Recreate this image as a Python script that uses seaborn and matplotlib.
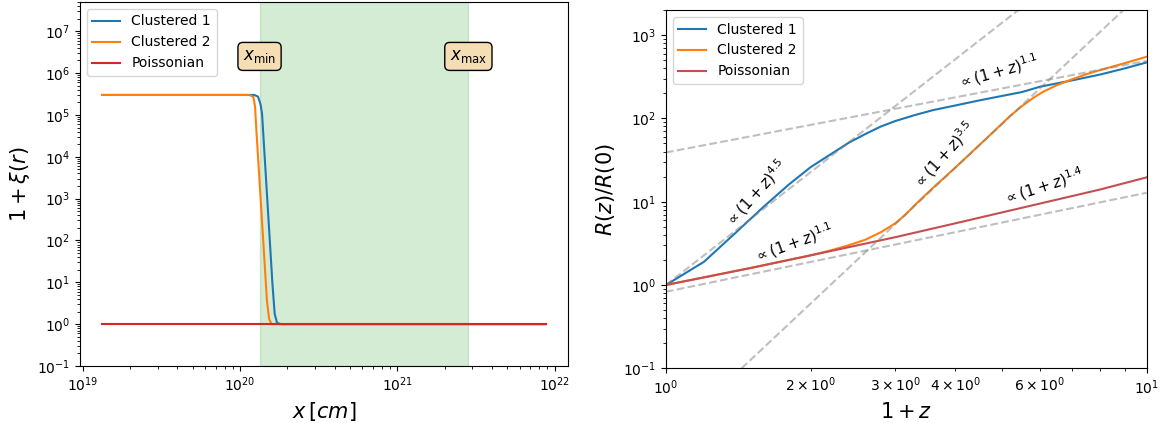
import pandas as pd
import matplotlib
matplotlib.use('Agg')
import matplotlib.pyplot as plt
import seaborn as sns

# Left panel: 1 + xi(r) against separation
x_clu1 = [1.33e19, 1.23e20, 1.30e20, 1.35e20, 1.38e20, 1.607e20, 1.66e20, 1.718e20, 1.82e20, 8.8e21]
y_clu1 = [3.0e5, 3.0e5, 2.75e5, 1.78e5, 1.05e5, 9.1, 1.78, 1.07, 1.0, 1.0]
x_clu2 = [1.33e19, 1.148e20, 1.216e20, 1.245e20, 1.274e20, 1.483e20, 1.531e20, 1.585e20, 8.8e21]
y_clu2 = [3.0e5, 3.0e5, 2.69e5, 1.58e5, 3.55e4, 3.55, 1.32, 1.0, 1.0]
x_poi = [1.33e19, 8.8e21]
y_poi = [1.0, 1.0]
x_lo, x_hi = 1.33e20, 2.83e21

# Right panel: R(z)/R(0) against 1+z
z_clu1 = [1.0, 1.2, 1.4, 1.6, 1.8, 2.0, 2.2, 2.4, 2.6, 2.8, 3.0, 3.3, 3.6, 4.0,
          4.5, 5.0, 5.5, 6.0, 7.0, 8.0, 9.0, 10.0]
r_clu1 = [1.0, 1.9, 4.3, 8.8, 16, 26, 37, 51, 65, 80, 93, 110, 126, 143,
          165, 186, 207, 240, 286, 336, 398, 470]
z_clu2 = [1.0, 1.5, 2.0, 2.2, 2.4, 2.6, 2.8, 3.0, 3.15, 3.3, 3.6, 4.0, 4.4, 4.8,
          5.2, 5.5, 5.8, 6.1, 6.5, 7.0, 7.5, 8.0, 9.0, 10.0]
r_clu2 = [1.0, 1.6, 2.27, 2.6, 3.0, 3.5, 4.3, 5.5, 7.0, 9.2, 14.8, 25.7, 43, 69,
          107, 140, 175, 210, 250, 295, 340, 380, 460, 550]
z_poi = [1.0, 1.5, 2.0, 3.0, 4.0, 6.0, 8.0, 10.0]
r_poi = [1.0, 1.6, 2.27, 3.75, 5.5, 9.5, 14.0, 19.6]

# dashed power-law guides (end points)
guide_z = [[1.0, 5.41], [1.437, 8.95], [1.0, 10.0], [1.0, 10.0]]
guide_r = [[1.0, 2000], [0.1, 2000], [39, 490], [0.83, 12.8]]

# slope labels: text, position, angle
lab_txt = [r'$\propto(1+z)^{4.5}$', r'$\propto(1+z)^{1.1}$', r'$\propto(1+z)^{3.5}$',
           r'$\propto(1+z)^{1.1}$', r'$\propto(1+z)^{1.4}$']
lab_z = [1.54, 1.84, 3.79, 4.9, 6.11]
lab_r = [12.6, 3.16, 36, 361, 15.5]
lab_rot = [48, 20, 48, 16, 18]

names = ['Clustered 1', 'Clustered 2', 'Poissonian']
colors_left = ['tab:blue', 'tab:orange', 'tab:red']
colors_right = ['tab:blue', 'tab:orange', '#c44e52']

fig = plt.figure(figsize=(11.61, 4.23), dpi=100)
ax1 = fig.add_axes([0.0689, 0.1348, 0.4203, 0.8605])
ax2 = fig.add_axes([0.5736, 0.1293, 0.4140, 0.8470])

# Left panel
for xs, ys, n, c in zip([x_clu1, x_clu2, x_poi], [y_clu1, y_clu2, y_poi], names, colors_left):
    df = pd.DataFrame({'x': xs, 'y': ys})
    sns.lineplot(data=df, x='x', y='y', color=c, label=n, estimator=None, lw=1.5, ax=ax1)
ax1.axvspan(x_lo, x_hi, color='tab:green', alpha=0.2)
box = dict(boxstyle='round', facecolor='wheat', edgecolor='black')
ax1.text(x_lo, 2.5e6, r'$x_{\rm min}$', ha='center', va='center', fontsize=12, bbox=box)
ax1.text(x_hi, 2.5e6, r'$x_{\rm max}$', ha='center', va='center', fontsize=12, bbox=box)
ax1.set_xscale('log')
ax1.set_yscale('log')
ax1.set_xlim(9.6e18, 1.216e22)
ax1.set_ylim(1e-1, 5e7)
ax1.set_xlabel(r'$x\,[cm]$', fontsize=15)
ax1.set_ylabel(r'$1+\xi(r)$', fontsize=15)
ax1.legend(loc='upper left')

# Right panel
for zs, rs, n, c in zip([z_clu1, z_clu2, z_poi], [r_clu1, r_clu2, r_poi], names, colors_right):
    df = pd.DataFrame({'z': zs, 'r': rs})
    sns.lineplot(data=df, x='z', y='r', color=c, label=n, estimator=None, lw=1.5, ax=ax2)
for gz, gr in zip(guide_z, guide_r):
    ax2.plot(gz, gr, ls='--', color='grey', alpha=0.5, lw=1.5)
for t, zz, rr, rot in zip(lab_txt, lab_z, lab_r, lab_rot):
    ax2.text(zz, rr, t, rotation=rot, ha='center', va='center', fontsize=11)
ax2.set_xscale('log')
ax2.set_yscale('log')
ax2.set_xlim(1, 10)
ax2.set_ylim(1e-1, 2000)
ax2.set_xlabel(r'$1+z$', fontsize=15)
ax2.set_ylabel(r'$R(z)/R(0)$', fontsize=15)
ax2.legend(loc='upper left')

plt.savefig('out.png', dpi=100)
